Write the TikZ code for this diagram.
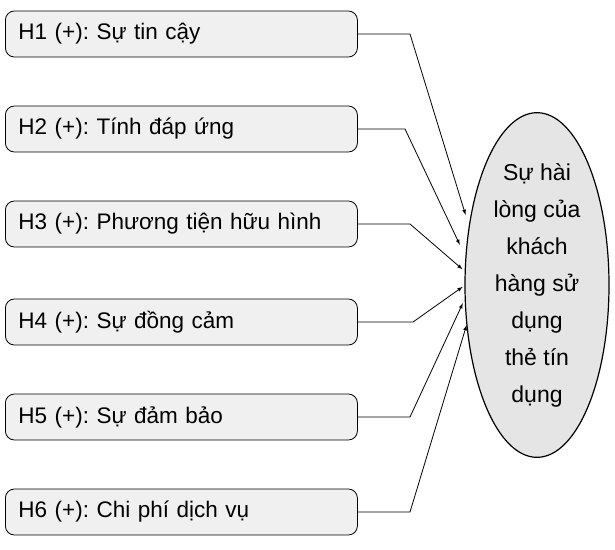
\documentclass[tikz,border=0pt]{standalone}
\usepackage{fontspec}
\setmainfont{Liberation Sans}
\usetikzlibrary{positioning}
\usetikzlibrary{arrows}
\usetikzlibrary{shapes.geometric}
\frenchspacing

\tikzset{
  hbox/.style={draw, thick, rounded corners=9pt, fill=gray!12, minimum width=352pt,
    minimum height=46pt, anchor=west, text width=326pt, align=left,
    font=\fontsize{22.5}{26}\selectfont},
  link/.style={-latex, line width=0.8pt, shorten >=-2pt}
}

\begin{document}
\begin{tikzpicture}[x=1pt,y=-1pt]
			\useasboundingbox (0,0) rectangle (615,549);

			% Outcome
			\node[draw, very thick, ellipse, fill=gray!20, minimum width=144pt, minimum height=296pt,
			  inner sep=0pt, align=center, font=\fontsize{23}{37}\selectfont] (sat) at (537,285)
			  {Sự hài\\lòng của\\khách\\hàng sử\\dụng\\thẻ tín\\dụng};

			% Hypotheses
			\node[hbox] (h1) at (5,34) {H1 (+): Sự tin cậy};
			\node[hbox] (h2) at (5,129) {H2 (+): Tính đáp ứng};
			\node[hbox] (h3) at (5,224) {H3 (+): Phương tiện hữu hình};
			\node[hbox] (h4) at (5,322) {H4 (+): Sự đồng cảm};
			\node[hbox] (h5) at (5,417) {H5 (+): Sự đảm bảo};
			\node[hbox] (h6) at (5,512) {H6 (+): Chi phí dịch vụ};

			% Bends
			\coordinate (b1) at (410,34);
			\coordinate (b2) at (405,129);
			\coordinate (b3) at (410,224);
			\coordinate (b4) at (413,322);
			\coordinate (b5) at (410,417);
			\coordinate (b6) at (410,512);

			% Links
			\draw[link] (h1.east) -- (b1) -- (465,213);
			\draw[link] (h2.east) -- (b2) -- (459,243);
			\draw[link] (h3.east) -- (b3) -- (461,268);
			\draw[link] (h4.east) -- (b4) -- (461,288);
			\draw[link] (h5.east) -- (b5) -- (462,305);
			\draw[link] (h6.east) -- (b6) -- (466,327);
		\end{tikzpicture}
\end{document}
